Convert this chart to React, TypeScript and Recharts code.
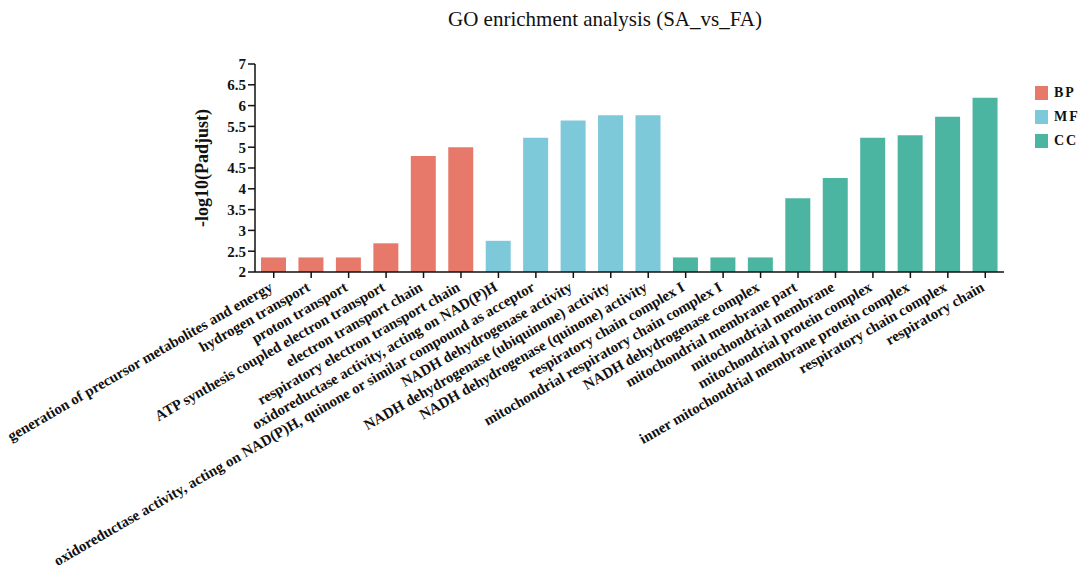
import { BarChart, Bar, XAxis, YAxis, Cell } from 'recharts';

const bpTerms = [
  'generation of precursor metabolites and energy',
  'hydrogen transport',
  'proton transport',
  'ATP synthesis coupled electron transport',
  'electron transport chain',
  'respiratory electron transport chain',
];
const bpValues = [2.35, 2.35, 2.35, 2.69, 4.79, 5.0];

const mfTerms = [
  'oxidoreductase activity, acting on NAD(P)H',
  'oxidoreductase activity, acting on NAD(P)H, quinone or similar compound as acceptor',
  'NADH dehydrogenase activity',
  'NADH dehydrogenase (ubiquinone) activity',
  'NADH dehydrogenase (quinone) activity',
];
const mfValues = [2.75, 5.23, 5.64, 5.77, 5.77];

const ccTerms = [
  'respiratory chain complex I',
  'mitochondrial respiratory chain complex I',
  'NADH dehydrogenase complex',
  'mitochondrial membrane part',
  'mitochondrial membrane',
  'mitochondrial protein complex',
  'inner mitochondrial membrane protein complex',
  'respiratory chain complex',
  'respiratory chain',
];
const ccValues = [2.35, 2.35, 2.35, 3.77, 4.26, 5.23, 5.29, 5.73, 6.19];

const yTicks = [2, 2.5, 3, 3.5, 4, 4.5, 5, 5.5, 6, 6.5, 7];

const groups = [
  { key: 'BP', color: '#E7796A', terms: bpTerms, values: bpValues },
  { key: 'MF', color: '#7DC8D9', terms: mfTerms, values: mfValues },
  { key: 'CC', color: '#4BB5A1', terms: ccTerms, values: ccValues },
];

const data = groups.flatMap(g =>
  g.terms.map((term, i) => ({ term, value: g.values[i], group: g.key, color: g.color })),
);

const serif = '"Liberation Serif", "Times New Roman", serif';

// rotated category labels, anchored at their right end under the tick
function TermTick(props: any) {
  const { x, y, payload } = props;
  return (
    <text
      x={x}
      y={y + 10}
      textAnchor="end"
      transform={`rotate(-30, ${x}, ${y + 10})`}
      fontFamily={serif}
      fontWeight="bold"
      fontSize={15}
      fill="#111"
    >
      {payload.value}
    </text>
  );
}

export default function App() {
  return (
    <div style={{ position: 'absolute', left: 0, top: 0, width: 1084, height: 576, background: '#fff' }}>
      <div style={{
        position: 'absolute', left: 0, width: 1210, top: 7, textAlign: 'center',
        fontFamily: serif, fontSize: 21, color: '#111',
      }}>
        GO enrichment analysis (SA_vs_FA)
      </div>

      <BarChart
        width={1084}
        height={576}
        data={data}
        barSize={25}
        margin={{ top: 64, right: 80, left: 190, bottom: 0 }}
      >
        <XAxis
          dataKey="term"
          interval={0}
          height={304}
          tick={<TermTick />}
          tickSize={6}
          axisLine={{ stroke: '#111', strokeWidth: 1.5 }}
          tickLine={{ stroke: '#111', strokeWidth: 1.5 }}
        />
        <YAxis
          domain={[2, 7]}
          ticks={yTicks}
          interval={0}
          width={65}
          tickSize={7}
          axisLine={{ stroke: '#111', strokeWidth: 1.5 }}
          tickLine={{ stroke: '#111', strokeWidth: 1.5 }}
          tick={{ fontFamily: serif, fontWeight: 'bold', fontSize: 15, fill: '#111' }}
          label={{
            value: '-log10(Padjust)',
            angle: -90,
            position: 'insideLeft',
            offset: 12,
            style: { fontFamily: serif, fontWeight: 'bold', fontSize: 18, fill: '#111', textAnchor: 'middle' },
          }}
        />
        <Bar dataKey="value" isAnimationActive={false}>
          {data.map(d => (
            <Cell key={d.term} fill={d.color} />
          ))}
        </Bar>
      </BarChart>

      <div style={{ position: 'absolute', left: 1035, top: 81, fontFamily: serif }}>
        {groups.map(g => (
          <div key={g.key} style={{ display: 'flex', alignItems: 'center', height: 24 }}>
            <div style={{ width: 13, height: 14, background: g.color }} />
            <span style={{ marginLeft: 6, fontWeight: 'bold', fontSize: 14, letterSpacing: 2, color: '#111' }}>
              {g.key}
            </span>
          </div>
        ))}
      </div>
    </div>
  );
}
